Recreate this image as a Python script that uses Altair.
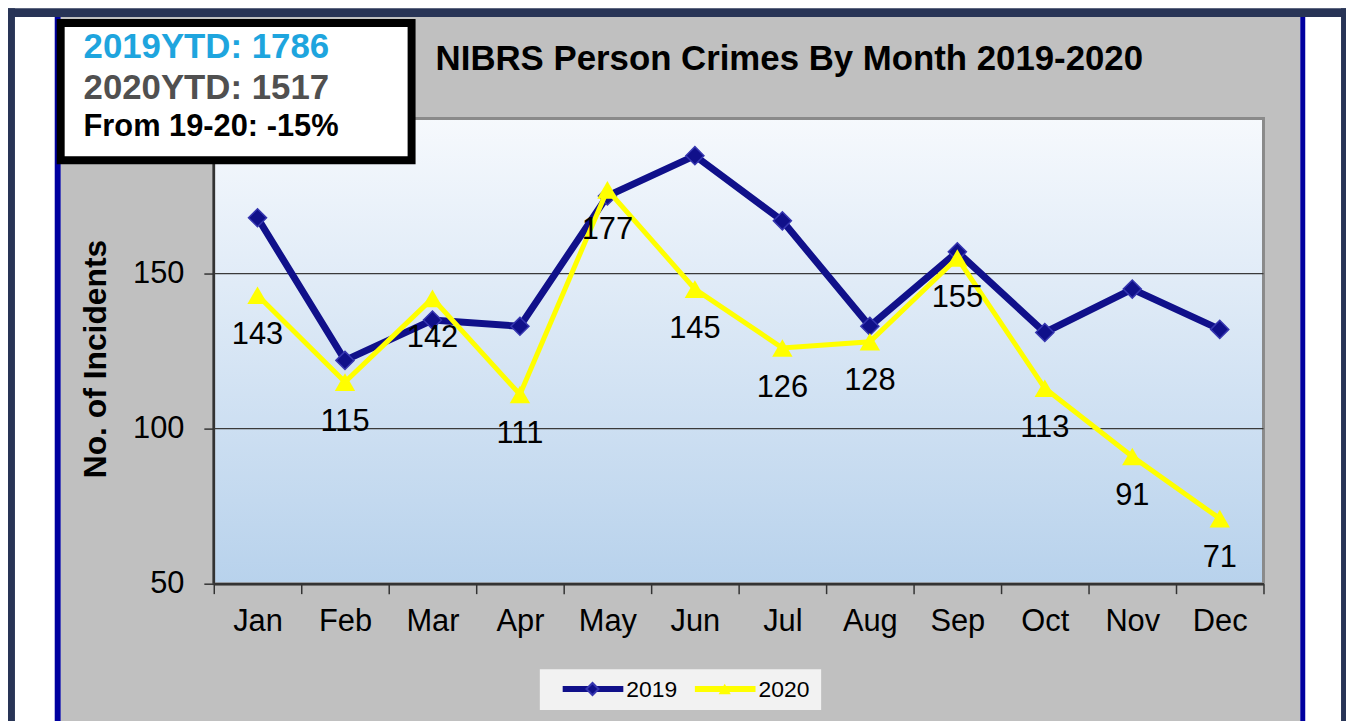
import altair as alt
import pandas as pd

months = ["Jan", "Feb", "Mar", "Apr", "May", "Jun", "Jul", "Aug", "Sep", "Oct", "Nov", "Dec"]
v2019 = [168, 122, 135, 133, 175, 188, 167, 133, 157, 131, 145, 132]
v2020 = [143, 115, 142, 111, 177, 145, 126, 128, 155, 113, 91, 71]
y_ticks = [50, 100, 150]
grid_vals = [100, 150]
info_lines = ["2019YTD: 1786", "2020YTD: 1517", "From 19-20: -15%"]
title_text = "NIBRS Person Crimes By Month 2019-2020"
legend_labels = ["2019", "2020"]

NAVY = "#10108a"
YELLOW = "#ffff00"
FONT = "Arial"
W, H = 1056, 468

d19 = pd.DataFrame({"month": months, "value": v2019})
d20 = pd.DataFrame({"month": months, "value": v2020})
dgrid = pd.DataFrame({"value": grid_vals})
one = pd.DataFrame({"k": [0]})

yscale = alt.Scale(domain=[50, 200], nice=False, zero=False)
xenc = alt.X("month:N", sort=months, title=None,
             scale=alt.Scale(domain=months, paddingInner=0, paddingOuter=0),
             axis=alt.Axis(labelAngle=0, labelFont=FONT, labelFontSize=31, labelColor="#000",
                           tickBand="extent", tickSize=10, tickColor="#333", tickWidth=1.5,
                           domainColor="#333", domainWidth=2.5, labelPadding=13, zindex=1))
yaxis = alt.Axis(values=y_ticks, labelFont=FONT, labelFontSize=31, labelColor="#000",
                 tickSize=10, tickColor="#333", tickWidth=1.5, domain=False,
                 labelPadding=20, grid=False, zindex=1)
yenc = alt.Y("value:Q", title=None, scale=yscale, axis=yaxis)


def rect(x, x2, y, y2, **kw):
    return alt.Chart(one).mark_rect(**kw).encode(
        x=alt.value(x), x2=alt.value(x2), y=alt.value(y), y2=alt.value(y2))


layers = []
# outer frame (plot-relative pixel coordinates)
layers.append(rect(-215, 1139, -111, 606, color="#ffffff"))
layers.append(rect(-154, 1093, -102, 606, color="#c0c0c0"))
layers.append(rect(-215, 1139, -111, -102, color="#283456"))
layers.append(rect(-210, -200, -111, 606, color="#283456"))
layers.append(rect(1134, 1139, -111, 606, color="#283456"))
layers.append(rect(-160, -154, -102, 606, color="#0000a0"))
layers.append(rect(1093, 1098, -102, 606, color="#0000a0"))

# plot area gradient
grad = alt.Gradient(gradient="linear", x1=0, x2=0, y1=0, y2=1,
                    stops=[alt.GradientStop(color="#f6f9fd", offset=0),
                           alt.GradientStop(color="#b8d2ec", offset=1)])
layers.append(rect(0, W, 0, H, color=grad))
layers.append(rect(0, W, 0, H, fill=None, stroke="#8a8a8a", strokeWidth=3, filled=False))
# left axis line
layers.append(alt.Chart(one).mark_rule(color="#333", strokeWidth=2.5)
              .encode(x=alt.value(0), y=alt.value(0), y2=alt.value(H)))

# gridlines
layers.append(alt.Chart(dgrid).mark_rule(color="#3a3a3a", strokeWidth=1.2).encode(y=yenc))

# data lines
line19 = alt.Chart(d19).mark_line(color=NAVY, strokeWidth=7).encode(x=xenc, y=yenc)
pts19 = alt.Chart(d19).mark_point(shape="diamond", size=330, filled=True, fill=NAVY,
                                  stroke="#3636b0", strokeWidth=1.5, opacity=1).encode(x=xenc, y=yenc)
line20 = alt.Chart(d20).mark_line(color=YELLOW, strokeWidth=5).encode(x=xenc, y=yenc)
pts20 = alt.Chart(d20).mark_point(shape="triangle-up", size=420, filled=True, fill=YELLOW,
                                  opacity=1).encode(x=xenc, y=yenc)
lab20 = alt.Chart(d20).mark_text(font=FONT, fontSize=31, color="#000", dy=40, baseline="middle").encode(
    x=xenc, y=yenc, text="value:Q")
layers += [line19, pts19, line20, pts20, lab20]

# y title
layers.append(alt.Chart(one).mark_text(text="No. of Incidents", font=FONT, fontSize=32, fontWeight="bold",
                                       angle=270, color="#000", baseline="middle")
              .encode(x=alt.value(-118), y=alt.value(242)))

# chart title
layers.append(alt.Chart(one).mark_text(text=title_text, font=FONT, fontSize=35, fontWeight="bold",
                                       color="#000", baseline="middle")
              .encode(x=alt.value(579), y=alt.value(-60)))

# info box
layers.append(rect(-154, 199, -96, 42, fill="#ffffff", stroke="#000000", strokeWidth=8))
info_colors = ["#1ea5de", "#505050", "#000000"]
info_sizes = [35, 35, 31]
info_y = [-72, -31, 9]
for t, c, s, yy in zip(info_lines, info_colors, info_sizes, info_y):
    layers.append(alt.Chart(one).mark_text(text=t, font=FONT, fontSize=s, fontWeight="bold", color=c,
                                           align="left", baseline="middle")
                  .encode(x=alt.value(-131), y=alt.value(yy)))

# legend
layers.append(rect(328, 611, 554, 595, color="#f2f2f2"))
layers.append(alt.Chart(one).mark_rule(color=NAVY, strokeWidth=6)
              .encode(x=alt.value(351), x2=alt.value(412), y=alt.value(574)))
layers.append(alt.Chart(one).mark_point(shape="diamond", size=150, filled=True, fill=NAVY, stroke="#3636b0",
                                        opacity=1).encode(x=alt.value(381), y=alt.value(574)))
layers.append(alt.Chart(one).mark_rule(color=YELLOW, strokeWidth=6)
              .encode(x=alt.value(484), x2=alt.value(545), y=alt.value(574)))
layers.append(alt.Chart(one).mark_point(shape="triangle-up", size=150, filled=True, fill=YELLOW,
                                        opacity=1).encode(x=alt.value(514), y=alt.value(574)))
for t, xx in zip(legend_labels, [415, 548]):
    layers.append(alt.Chart(one).mark_text(text=t, font=FONT, fontSize=23, color="#000", align="left",
                                           baseline="middle").encode(x=alt.value(xx), y=alt.value(575)))

chart = alt.layer(*layers).resolve_scale(y="shared").properties(
    width=W, height=H,
    padding={"left": 207, "top": 109, "right": 83, "bottom": 138},
    autosize=alt.AutoSizeParams(type="none"),
    background="#ffffff",
).configure_view(stroke=None)

chart.save("out.html", embed_options={"renderer": "svg", "actions": False})
